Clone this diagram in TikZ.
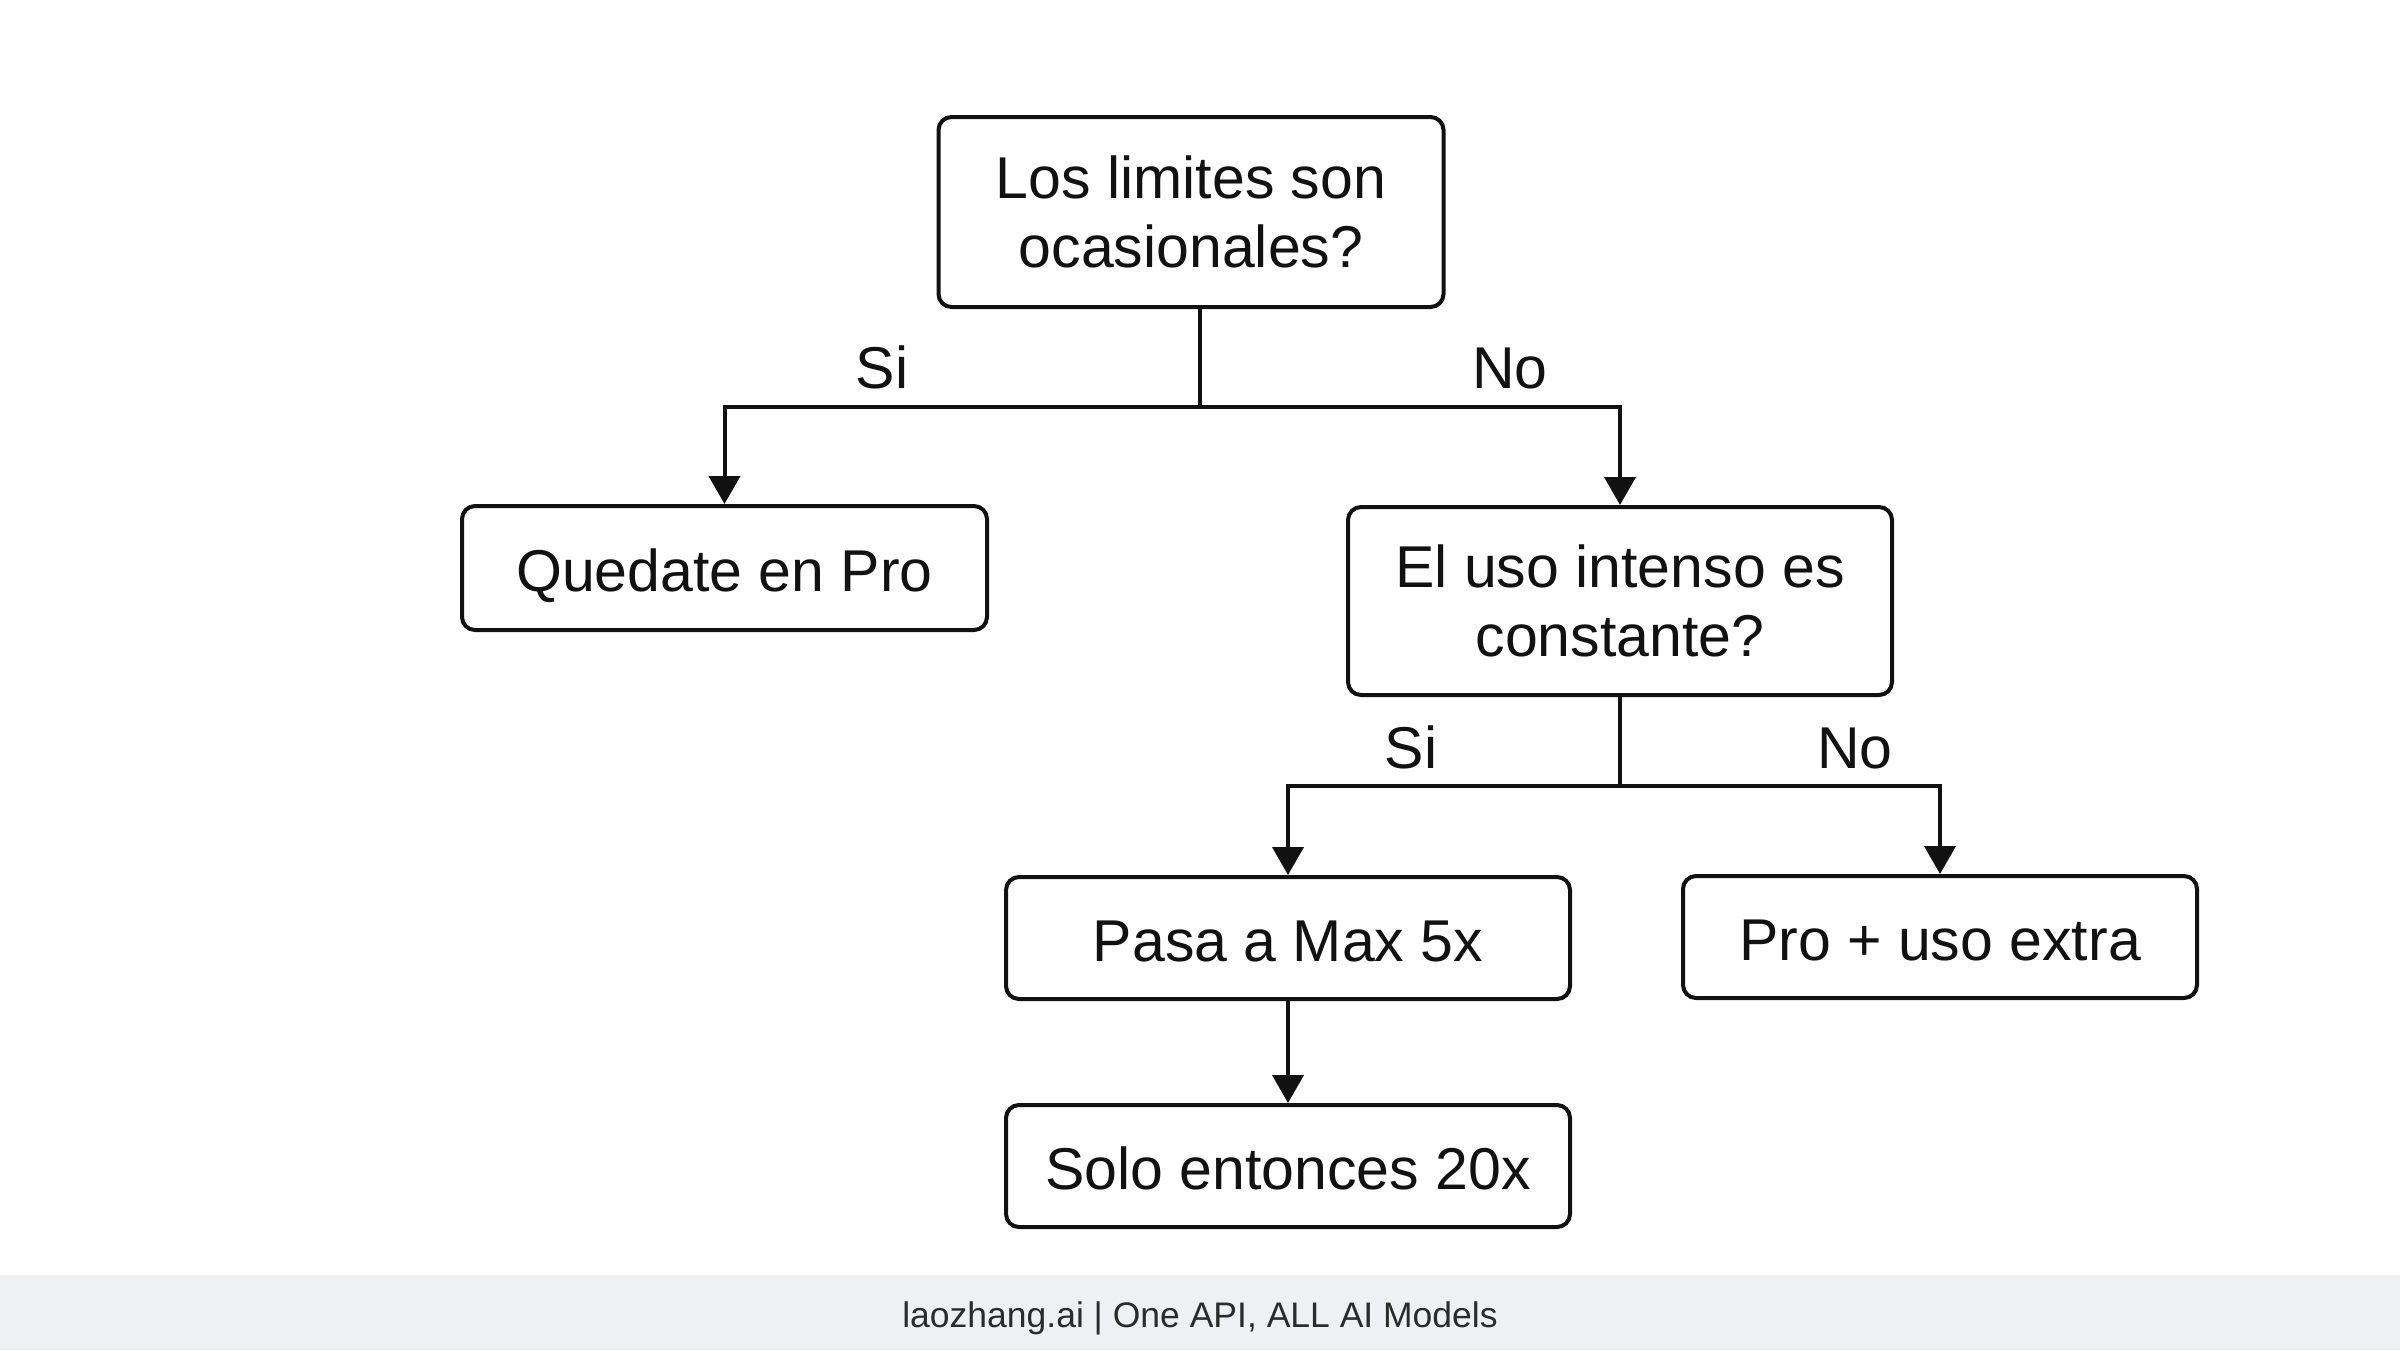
\documentclass[tikz,border=0pt]{standalone}
\usepackage{fontspec}
\setmainfont{Liberation Sans}
\usetikzlibrary{arrows.meta}
\definecolor{ink}{HTML}{111111}
\definecolor{footbg}{HTML}{EEF0F4}
\definecolor{foottext}{HTML}{2B2B2B}
\tikzset{
  box/.style={draw=ink, line width=4pt, rounded corners=13pt, fill=white, text=ink,
    inner sep=0pt, align=center, font=\fontsize{59}{69}\selectfont},
  oneline/.style={box, text height=52pt, text depth=6pt},
  conn/.style={draw=ink, line width=4pt},
  arr/.style={conn, -{Triangle[width=31pt,length=28pt]}},
  lbl/.style={anchor=base, text=ink, inner sep=0pt, font=\fontsize{59}{69}\selectfont},
}
\begin{document}
\begin{tikzpicture}[x=1pt,y=-1pt]
\useasboundingbox (0,0) rectangle (2400,1350);
\fill[white] (0,0) rectangle (2400,1350);
\fill[footbg] (0,1275) rectangle (2400,1350);
\node[anchor=base, text=foottext, font=\fontsize{35.5}{40}\selectfont] (foot) at (1200,1327) {laozhang.ai | One API, ALL AI Models};

\node[box, minimum width=505pt, minimum height=190pt] (b1) at (1191,212) {Los limites son\\ocasionales?};
\node[oneline, minimum width=525pt, minimum height=124pt] (b2) at (724.5,568) {Quedate en Pro};
\node[box, minimum width=544pt, minimum height=188pt] (b3) at (1620,601) {El uso intenso es\\constante?};
\node[oneline, minimum width=564pt, minimum height=122pt] (b4) at (1288,938) {Pasa a Max 5x};
\node[oneline, minimum width=514pt, minimum height=122pt] (b5) at (1940,937) {Pro + uso extra};
\node[oneline, minimum width=564pt, minimum height=122pt] (b6) at (1288,1166) {Solo entonces 20x};

\coordinate (s1) at ([xshift=9pt]b1.south);
\coordinate (j1) at (1200,407);
\coordinate (j2) at (1620,786);
\draw[conn] (s1) -- (s1 |- j1);
\draw[arr] (s1 |- j1) -| (b2.north);
\draw[arr] (s1 |- j1) -| (b3.north);
\draw[conn] (b3.south) -- (b3.south |- j2);
\draw[arr] (b3.south |- j2) -| (b4.north);
\draw[arr] (b3.south |- j2) -| (b5.north);
\draw[arr] (b4.south) -- (b6.north);

\node[lbl] (l1) at (882,388) {Si};
\node[lbl] (l2) at (1510,388) {No};
\node[lbl] (l3) at (1411,768) {Si};
\node[lbl] (l4) at (1855,768) {No};
\end{tikzpicture}
\end{document}
